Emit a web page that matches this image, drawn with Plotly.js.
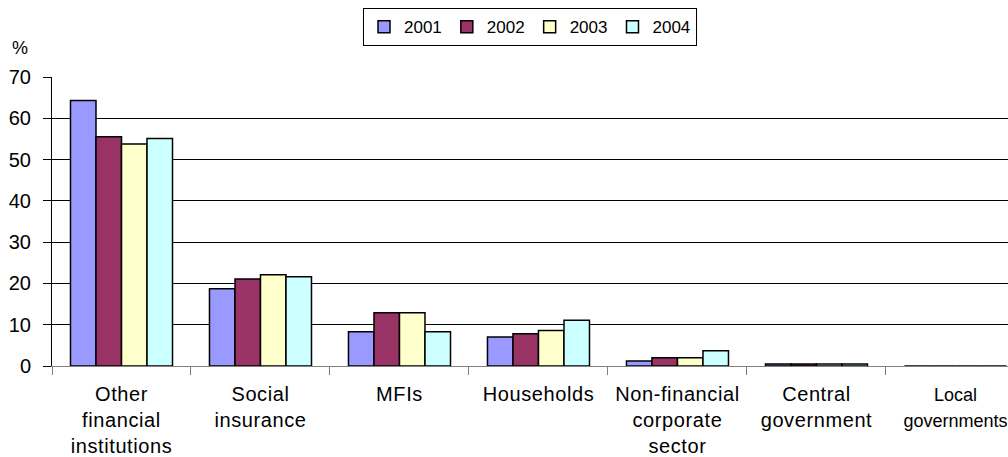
<!DOCTYPE html>
<html>
<head>
<meta charset="utf-8">
<script src="https://cdn.plot.ly/plotly-3.0.1.min.js"></script>
<style>
html,body{margin:0;padding:0;overflow:hidden;background:#fff;}
#chart{width:1008px;height:457px;}
.xtick text{letter-spacing:0.6px;}
</style>
</head>
<body>
<div id="chart"></div>
<script>
const categories = [
  "Other financial institutions",
  "Social insurance",
  "MFIs",
  "Households",
  "Non-financial corporate sector",
  "Central government",
  "Local governments"
];
const tickLabels = [
  "Other<br>financial<br>institutions",
  "Social<br>insurance",
  "MFIs",
  "Households",
  "Non-financial<br>corporate<br>sector",
  "Central<br>government",
  "<span style=\"font-size:18px;letter-spacing:0px\">Local</span><br><span style=\"font-size:18px;letter-spacing:0px\">governments</span>"
];
const seriesNames = ["2001", "2002", "2003", "2004"];
const v2001 = [64.3, 18.7, 8.3, 7.0, 1.2, 0.5, 0];
const v2002 = [55.5, 21.1, 12.9, 7.8, 2.0, 0.5, 0];
const v2003 = [53.8, 22.1, 12.9, 8.6, 2.0, 0.5, 0];
const v2004 = [55.1, 21.6, 8.3, 11.1, 3.7, 0.5, 0];
const seriesValues = [v2001, v2002, v2003, v2004];
const colors = ["#9999FF", "#993366", "#FFFFCC", "#CCFFFF"];
const yTicks = [0, 10, 20, 30, 40, 50, 60, 70];

const font = "Liberation Sans, Arial, sans-serif";

const traces = seriesNames.map((name, i) => ({
  type: "bar",
  name: name,
  x: categories,
  y: seriesValues[i],
  marker: { color: colors[i], line: { color: "#000000", width: 1.5 } }
}));

const layout = {
  width: 1008,
  height: 457,
  margin: { l: 52, r: 0, t: 77, b: 91 },
  paper_bgcolor: "#ffffff",
  plot_bgcolor: "#ffffff",
  barmode: "group",
  bargap: 0.266,
  bargroupgap: 0,
  font: { family: font, size: 18, color: "#000000" },
  showlegend: true,
  legend: {
    orientation: "h",
    x: 0.5, xanchor: "center",
    y: 1.238, yanchor: "top",
    bordercolor: "#000000", borderwidth: 1,
    bgcolor: "#ffffff",
    itemwidth: 30,
    font: { family: font, size: 17, color: "#000000" },
    traceorder: "normal"
  },
  xaxis: {
    type: "category",
    categoryorder: "array",
    categoryarray: categories,
    range: [-0.5, 6.378],
    tickmode: "array",
    tickvals: categories,
    ticktext: tickLabels,
    tickangle: 0,
    showgrid: false,
    showline: true,
    linecolor: "#808080",
    linewidth: 1,
    ticks: "outside",
    tickson: "boundaries",
    ticklen: 8,
    tickcolor: "#808080",
    ticklabelstandoff: 10,
    tickfont: { family: font, size: 20, color: "#000000" },
    fixedrange: true
  },
  yaxis: {
    range: [0, 70],
    tickvals: yTicks,
    ticktext: yTicks.map(String),
    showgrid: true,
    gridcolor: "#000000",
    gridwidth: 1,
    zeroline: false,
    showline: true,
    linecolor: "#000000",
    linewidth: 1,
    ticks: "outside",
    ticklen: 8,
    tickcolor: "#000000",
    ticklabelstandoff: 8,
    tickfont: { family: font, size: 20, color: "#000000" },
    fixedrange: true
  },
  annotations: [{
    text: "%",
    xref: "paper", yref: "paper",
    x: -0.0335, y: 1.10,
    xanchor: "center", yanchor: "middle",
    showarrow: false,
    font: { family: font, size: 18, color: "#000000" }
  }]
};

Plotly.newPlot("chart", traces, layout, { displayModeBar: false, staticPlot: true });
</script>
</body>
</html>
